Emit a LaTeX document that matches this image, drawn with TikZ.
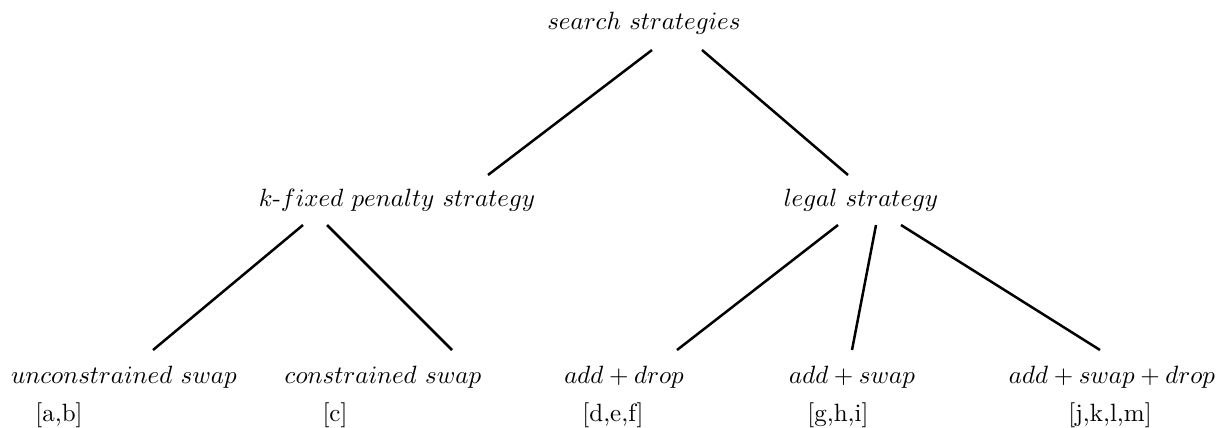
\documentclass[tikz,border=0pt]{standalone}
\begin{document}
\begin{tikzpicture}[x=0.4pt,y=-0.4pt,
  lbl/.style={anchor=base,inner sep=0pt,font=\normalsize},
  edge/.style={draw,line width=1pt}]
\useasboundingbox (0,0) rectangle (1218,427);
% nodes
\node[lbl] (root) at (644,29) {$search\ strategies$};
\node[lbl] (kfix) at (397,206) {$k$-$fixed\ penalty\ strategy$};
\node[lbl] (legal) at (861,206) {$legal\ strategy$};
\node[lbl] (uncs) at (124,383) {$unconstrained\ swap$};
\node[lbl] (cons) at (383,383) {$constrained\ swap$};
\node[lbl] (adrop) at (624,383) {$add + drop$};
\node[lbl] (aswap) at (852,383) {$add + swap$};
\node[lbl] (asd) at (1112,383) {$add + swap + drop$};
\node[lbl] (refab) at (59,421) {[a,b]};
\node[lbl] (refc) at (335,421) {[c]};
\node[lbl] (refdef) at (613,421) {[d,e,f]};
\node[lbl] (refghi) at (838,421) {[g,h,i]};
\node[lbl] (refjklm) at (1110,421) {[j,k,l,m]};
% connectors
\draw[edge] ([shift={(8,21)}]root.base) -- ([shift={(91,-31)}]kfix.base);
\draw[edge] ([shift={(58,21)}]root.base) -- ([shift={(-13,-31)}]legal.base);
\draw[edge] ([shift={(-94,19)}]kfix.base) -- ([shift={(29,-33)}]uncs.base);
\draw[edge] ([shift={(-70,19)}]kfix.base) -- ([shift={(69,-33)}]cons.base);
\draw[edge] ([shift={(-23,19)}]legal.base) -- ([shift={(53,-33)}]adrop.base);
\draw[edge] ([shift={(15,19)}]legal.base) -- ([shift={(0,-33)}]aswap.base);
\draw[edge] ([shift={(40,19)}]legal.base) -- ([shift={(-12,-33)}]asd.base);
\end{tikzpicture}
\end{document}
